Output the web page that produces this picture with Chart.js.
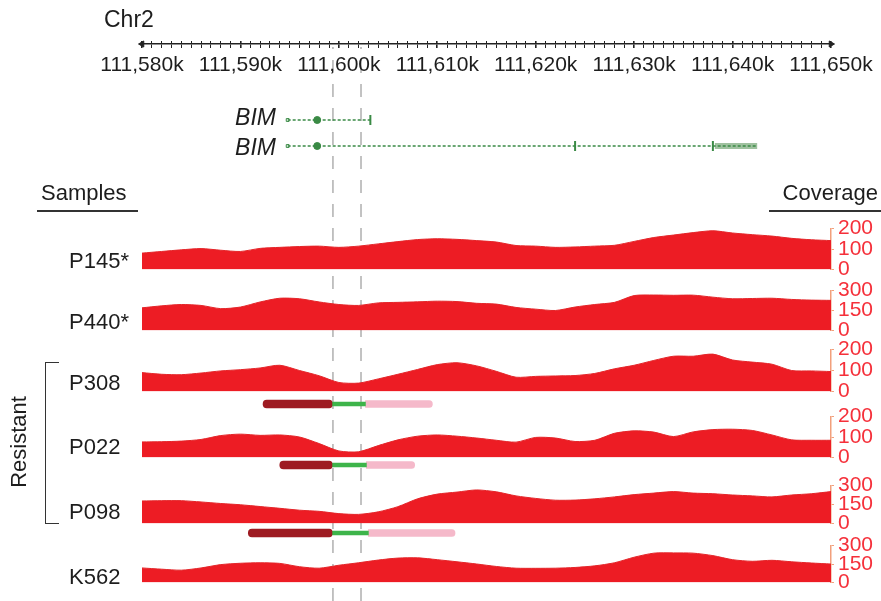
<!DOCTYPE html>
<html>
<head>
<meta charset="utf-8">
<title>BIM deletion coverage</title>
<script src="https://cdn.jsdelivr.net/npm/chart.js@4.4.1/dist/chart.umd.min.js"></script>
<style>
  html, body { margin: 0; padding: 0; background: #fff; }
  #fig { position: relative; width: 881px; height: 601px; overflow: hidden;
         font-family: "Liberation Sans", Arial, Helvetica, sans-serif; color: #1d1d1d; }
  #fig canvas { position: absolute; left: 0; }
  .txt { position: absolute; font-size: 22px; line-height: 22px; white-space: nowrap; }
  .rule { position: absolute; height: 2px; background: #333; }
</style>
</head>
<body>
<div id="fig"></div>
<script>
// genomic window, in kb
const genomeStart = 111580;
const genomeEnd = 111650;
const axisLabels = [111580, 111590, 111600, 111610, 111620, 111630, 111640, 111650];

// dashed guide lines (deleted region)
const guideLines = [111599.4, 111602.25];

// BIM transcripts
const bimShortSpan = [111594.8, 111603.4];
const bimLongSpan = [111594.8, 111642.5];
const bimShortExons = [111603.2];
const bimLongExons = [111624.0, 111638.0];
const bimFirstExon = [111597.8];
const bimUtr = [111638.2, 111642.5];

// coverage tracks
const samples = ["P145*", "P440*", "P308", "P022", "P098", "K562"];
const coverageMax = [200, 300, 200, 200, 300, 300];
const coveragePos = [111580, 111582, 111584, 111586, 111588, 111590, 111592, 111594, 111596, 111598,
  111600, 111602, 111604, 111606, 111608, 111610, 111612, 111614, 111616, 111618,
  111620, 111622, 111624, 111626, 111628, 111630, 111632, 111634, 111636, 111638,
  111640, 111642, 111644, 111646, 111648, 111650];
const p145 = [80, 88, 96, 102, 94, 88, 103, 108, 112, 114, 108, 114, 125, 136, 146, 150, 147, 141, 134, 117,
  114, 108, 110, 114, 118, 137, 156, 168, 180, 189, 178, 170, 163, 152, 145, 141];
const p440 = [170, 185, 195, 188, 164, 176, 214, 242, 238, 214, 195, 188, 207, 211, 215, 220, 217, 204, 198, 173,
  160, 150, 176, 195, 211, 262, 266, 264, 265, 250, 238, 240, 242, 233, 228, 226];
const p308 = [90, 82, 80, 88, 98, 104, 112, 125, 100, 75, 43, 40, 60, 82, 105, 128, 137, 122, 96, 68,
  72, 74, 76, 86, 108, 125, 148, 168, 168, 178, 150, 140, 130, 100, 98, 95];
const p022 = [76, 77, 80, 88, 107, 114, 108, 110, 100, 68, 32, 28, 58, 86, 104, 110, 104, 95, 84, 75,
  98, 95, 78, 84, 118, 130, 124, 102, 125, 136, 138, 132, 110, 86, 84, 84];
const p098 = [178, 180, 180, 170, 158, 148, 134, 120, 105, 96, 78, 72, 92, 133, 195, 232, 248, 265, 250, 218,
  198, 184, 185, 195, 210, 228, 240, 252, 240, 235, 225, 218, 210, 225, 235, 252];
const k562 = [118, 108, 100, 118, 145, 156, 160, 155, 128, 116, 140, 160, 182, 198, 200, 185, 168, 150, 130, 116,
  115, 116, 122, 135, 160, 205, 238, 240, 238, 218, 185, 172, 180, 168, 158, 150];
const coverage = [p145, p440, p308, p022, p098, k562];

// deletion breakpoints under the resistant samples
const delSamples = ["P308", "P022", "P098"];
const delStart = [111592.3, 111594.0, 111590.8];
const delLeftEnd = [111599.3, 111599.3, 111599.3];
const delRightStart = [111602.7, 111602.8, 111603.0];
const delEnd = [111609.5, 111607.7, 111611.8];

// layout (page pixels)
const fig = document.getElementById("fig");
const padLeft = 142, padRight = 50;
const trackTop = [228, 290, 349, 416, 485, 545];
const trackH = [42, 41, 43, 42, 39, 38];
const labelMid = [261, 322, 383, 447, 512, 577];
const delMid = [404, 464.5, 533];

const RED = "#ed1c24";
const GREEN = "#3a8a45";

Chart.defaults.font.family = '"Liberation Sans", Arial, Helvetica, sans-serif';
Chart.defaults.color = "#1d1d1d";

function makeCanvas(top, height) {
  const c = document.createElement("canvas");
  c.width = 881;
  c.height = height;
  c.style.top = top + "px";
  fig.appendChild(c);
  return c;
}

function addText(text, css, cls) {
  const d = document.createElement("div");
  d.className = cls || "txt";
  d.textContent = text;
  Object.assign(d.style, css);
  fig.appendChild(d);
  return d;
}

function baseOptions(padding) {
  return {
    responsive: false,
    animation: false,
    events: [],
    layout: { padding: padding },
    plugins: { legend: { display: false }, tooltip: { enabled: false } }
  };
}

// dashed guide lines behind everything
(function () {
  const c = makeCanvas(0, 601);
  const opts = baseOptions({ left: padLeft, right: padRight, top: 47, bottom: 0 });
  opts.scales = {
    x: { type: "linear", min: genomeStart, max: genomeEnd, display: false },
    y: { min: 0, max: 1, display: false }
  };
  new Chart(c, {
    type: "line",
    data: {
      datasets: guideLines.map(g => ({
        data: [{ x: g, y: 0 }, { x: g, y: 1 }],
        borderColor: "#a3a3a3",
        borderWidth: 1.3,
        borderDash: [13, 11],
        pointRadius: 0
      }))
    },
    options: opts
  });
})();

// genomic ruler
(function () {
  const c = makeCanvas(0, 90);
  const opts = baseOptions({ left: padLeft, right: padRight, top: 41, bottom: 0 });
  opts.scales = {
    x: {
      type: "linear", position: "bottom", min: genomeStart, max: genomeEnd,
      afterBuildTicks: s => {
        const t = [];
        for (let v = genomeStart; v <= genomeEnd; v++) t.push({ value: v });
        s.ticks = t;
      },
      afterFit: s => { s.height = 46; },
      border: { color: "#222", width: 1.5 },
      grid: {
        drawOnChartArea: true, tickLength: 4, color: "#222",
        lineWidth: ctx => (axisLabels.includes(ctx.tick && ctx.tick.value) ? 1.6 : 1)
      },
      ticks: {
        autoSkip: false, maxRotation: 0, padding: 5, color: "#1d1d1d",
        font: { size: 21 },
        callback: v => (axisLabels.includes(v) ? v.toLocaleString("en-US") + "k" : "")
      }
    },
    y: { min: 0, max: 1, display: false }
  };
  new Chart(c, {
    type: "scatter",
    data: {
      datasets: [{
        data: [{ x: genomeStart, y: 0 }, { x: genomeEnd, y: 0 }],
        pointStyle: "triangle",
        rotation: [-90, 90],
        radius: 3.5,
        backgroundColor: "#222",
        borderColor: "#222",
        clip: false
      }]
    },
    options: opts
  });
})();

// BIM gene models
(function () {
  const c = makeCanvas(100, 66);
  const opts = baseOptions({ left: padLeft, right: padRight, top: 3, bottom: 3 });
  opts.scales = {
    x: { type: "linear", min: genomeStart, max: genomeEnd, display: false },
    y: { min: 0, max: 4, display: false }
  };
  const shortY = 3, longY = 1;
  new Chart(c, {
    type: "line",
    data: {
      datasets: [
        { data: bimShortSpan.map(x => ({ x, y: shortY })), borderColor: GREEN, borderWidth: 1.4,
          borderDash: [3, 2], pointRadius: 0, clip: false },
        { data: bimLongSpan.map(x => ({ x, y: longY })), borderColor: GREEN, borderWidth: 1.4,
          borderDash: [3, 2], pointRadius: 0, clip: false },
        { data: bimUtr.map(x => ({ x, y: longY })), borderColor: "#9fc19f", borderWidth: 6,
          pointRadius: 0, clip: false },
        { type: "scatter", data: [{ x: bimShortSpan[0], y: shortY }, { x: bimLongSpan[0], y: longY }],
          pointStyle: "rect", radius: 2, borderColor: GREEN, borderWidth: 1, backgroundColor: "#fff", clip: false },
        { type: "scatter", data: [{ x: bimFirstExon[0], y: shortY }, { x: bimFirstExon[0], y: longY }],
          pointStyle: "circle", radius: 3.5, backgroundColor: GREEN, borderColor: GREEN, clip: false },
        { type: "scatter",
          data: bimShortExons.map(x => ({ x, y: shortY })).concat(bimLongExons.map(x => ({ x, y: longY }))),
          pointStyle: "line", rotation: 90, radius: 5, borderWidth: 2, borderColor: GREEN, clip: false }
      ]
    },
    options: opts
  });
})();

// coverage tracks
samples.forEach((name, i) => {
  const c = makeCanvas(trackTop[i] - 14, trackH[i] + 28);
  const maxV = coverageMax[i];
  const opts = baseOptions({ left: padLeft, right: 0, top: 14, bottom: 14 });
  opts.scales = {
    x: { type: "linear", min: genomeStart, max: genomeEnd, display: false },
    y: {
      position: "right", min: 0, max: maxV,
      afterBuildTicks: s => { s.ticks = [0, maxV / 2, maxV].map(v => ({ value: v })); },
      afterFit: s => { s.width = padRight; },
      border: { color: "#f2a07c", width: 1.5 },
      grid: { drawOnChartArea: false, color: "#f2a07c", tickLength: 3, lineWidth: 1 },
      ticks: { color: "#f5303a", padding: 4, autoSkip: false, font: { size: 21, lineHeight: 1 } }
    }
  };
  new Chart(c, {
    type: "line",
    data: {
      datasets: [{
        label: name,
        data: coveragePos.map((x, j) => ({ x, y: coverage[i][j] })),
        fill: "origin",
        backgroundColor: RED,
        borderColor: "#e4262a",
        borderWidth: 1,
        pointRadius: 0,
        tension: 0.25
      }]
    },
    options: opts
  });
  addText(name, { left: "69px", top: (labelMid[i] - 11) + "px" });
});

// deletion bars
delSamples.forEach((name, i) => {
  const c = makeCanvas(delMid[i] - 10, 20);
  const opts = baseOptions({ left: padLeft, right: padRight, top: 0, bottom: 0 });
  opts.indexAxis = "y";
  opts.scales = {
    x: { type: "linear", min: genomeStart, max: genomeEnd, display: false },
    y: { display: false }
  };
  new Chart(c, {
    type: "bar",
    data: {
      labels: [name],
      datasets: [
        { data: [[delStart[i], delLeftEnd[i]]], backgroundColor: "#9e1b22", barThickness: 8, grouped: false,
          borderSkipped: false, borderRadius: { topLeft: 4, bottomLeft: 4, topRight: 3, bottomRight: 3 } },
        { data: [[delLeftEnd[i], delRightStart[i]]], backgroundColor: "#3db44a", barThickness: 4, grouped: false },
        { data: [[delRightStart[i], delEnd[i]]], backgroundColor: "#f5b9ca", barThickness: 7, grouped: false,
          borderSkipped: false, borderRadius: { topLeft: 0, bottomLeft: 0, topRight: 4, bottomRight: 4 } }
      ]
    },
    options: opts
  });
});

// text and decorations
addText("Chr2", { left: "104px", top: "8px", fontSize: "23px" });
addText("BIM", { right: (881 - 276) + "px", top: "106px", fontSize: "23px", fontStyle: "italic" });
addText("BIM", { right: (881 - 276) + "px", top: "136px", fontSize: "23px", fontStyle: "italic" });
addText("Samples", { left: "41px", top: "182px" });
addText("", { left: "37px", top: "210px", width: "101px" }, "rule");
addText("Coverage", { right: "3px", top: "182px" });
addText("", { left: "769px", top: "210px", width: "112px" }, "rule");
addText("Resistant", { left: "-41px", top: "431px", width: "120px", textAlign: "center",
  transform: "rotate(-90deg)", transformOrigin: "60px 11px" });
const bracket = document.createElement("div");
Object.assign(bracket.style, { position: "absolute", left: "45px", top: "362px", width: "13px",
  height: "160px", border: "1.5px solid #333", borderRight: "none" });
fig.appendChild(bracket);
</script>
</body>
</html>
